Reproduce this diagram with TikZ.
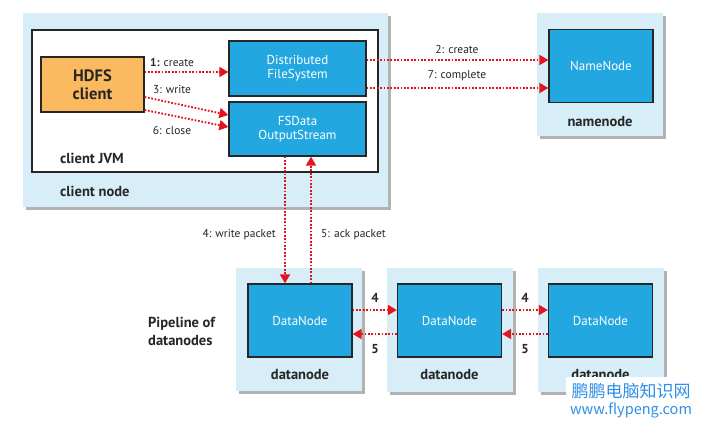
\documentclass[tikz,border=0pt]{standalone}
\usepackage{fontspec}
\setmainfont{PT Sans}
\newfontfamily\cjkfont{Noto Sans CJK SC}
\usetikzlibrary{arrows.meta,shadows,calc}
\definecolor{lightbg}{HTML}{D7EEF8}
\definecolor{nodeblue}{HTML}{22A7E0}
\definecolor{hdfsorange}{HTML}{FBB960}
\definecolor{arrred}{HTML}{E2141E}
\definecolor{wmblue}{HTML}{2E8FE8}
\definecolor{txtgray}{HTML}{262626}
\tikzset{
  outerbox/.style={draw=none,fill=lightbg,minimum width=126pt,minimum height=123pt,inner sep=0pt,
    drop shadow={shadow xshift=3pt,shadow yshift=-3pt,fill=black!60,opacity=0.5}},
  bluebox/.style={draw=black!85,line width=1.3pt,fill=nodeblue,text=white,align=center,
    font=\fontsize{13}{14}\selectfont,inner sep=0pt},
  innerdn/.style={bluebox,minimum width=104pt,minimum height=73pt},
  boxlabel/.style={font=\bfseries\fontsize{14.5}{15}\selectfont,text=txtgray,inner sep=0pt},
  lbl/.style={font=\fontsize{11.5}{12}\selectfont,text=txtgray,inner sep=0pt},
  numlbl/.style={font=\bfseries\fontsize{13}{14}\selectfont,text=txtgray,inner sep=0pt},
  arr/.style={draw=arrred,line width=1.9pt,dash pattern=on 1.7pt off 1.7pt,
    -{Triangle[length=9pt,width=10pt,fill=arrred]},shorten >=0pt},
}
\begin{document}
\begin{tikzpicture}[x=1pt,y=-1pt]
\useasboundingbox (0,0) rectangle (701,430);
\fill[white] (0,0) rectangle (701,430);

% client node
\node[outerbox,minimum width=365pt,minimum height=194pt] (clientnode) at (205.5,110) {};
\node[draw=black!85,line width=1.3pt,fill=white,minimum width=346pt,minimum height=142pt,inner sep=0pt] (jvm) at (205,101) {};
\node[draw=black!85,line width=1.3pt,fill=hdfsorange,minimum width=103pt,minimum height=55pt,inner sep=0pt,align=center,
  font=\bfseries\fontsize{16.5}{18}\selectfont,text=txtgray] (hdfs) at (92.5,84.5) {HDFS\\client};
\node[bluebox,minimum width=137pt,minimum height=55pt] (dfs) at (297.5,68.5) {Distributed\\FileSystem};
\node[bluebox,minimum width=137pt,minimum height=54pt] (fsd) at (297.5,129) {FSData\\OutputStream};
\node[boxlabel,anchor=west] (jvmlbl) at (60,158) {client JVM};
\node[boxlabel,anchor=west] (cnlbl) at (60,191) {client node};

% namenode
\node[outerbox] (nnbox) at (600,74.5) {};
\node[innerdn] (nn) at (601,66) {NameNode};
\node[boxlabel] (nnlbl) at (600,122) {namenode};

% datanodes
\node[outerbox] (dnbox1) at (298.5,329.5) {};
\node[innerdn] (dn1) at (300,320.5) {DataNode};
\node[boxlabel] (dnlbl1) at (300,375) {datanode};
\node[outerbox] (dnbox2) at (449.5,330) {};
\node[innerdn] (dn2) at (449.5,320.5) {DataNode};
\node[boxlabel] (dnlbl2) at (449.5,375) {datanode};
\node[outerbox] (dnbox3) at (601,330) {};
\node[innerdn] (dn3) at (600.5,320.5) {DataNode};
\node[boxlabel] (dnlbl3) at (600.5,375) {datanode};

\node[boxlabel,anchor=west,align=left,font=\bfseries\fontsize{14.5}{18}\selectfont] (pipe) at (148,331) {Pipeline of\\datanodes};

% arrows inside client
\draw[arr] ([yshift=12.5pt]hdfs.east) -- ([yshift=12.5pt]hdfs.east -| dfs.west);
\node[lbl] (l1) at (172,62) {\textbf{1:} create};
\draw[arr] ([yshift=-12.5pt]hdfs.east) -- ([yshift=14pt]fsd.west);
\node[lbl] (l3) at (172,90) {3: write};
\draw[arr] ([yshift=-25.5pt]hdfs.east) -- ([yshift=2pt]fsd.west);
\node[lbl] (l6) at (172,130) {6: close};

% to namenode
\draw[arr] ([yshift=8.5pt]dfs.east) -- ([yshift=8.5pt]dfs.east -| nn.west);
\node[lbl] (l2) at (457,49) {2: create};
\draw[arr] ([yshift=-19.5pt]dfs.east) -- ([yshift=-19.5pt]dfs.east -| nn.west);
\node[lbl] (l7) at (457,76) {7: complete};

% vertical
\draw[arr] ([xshift=-12.5pt]fsd.south) -- ([xshift=-12.5pt]fsd.south |- dn1.north);
\node[lbl,anchor=east] (l4) at (276,235) {4: write packet};
\draw[arr] ([xshift=13.5pt]fsd.south |- dn1.north) -- ([xshift=13.5pt]fsd.south);
\node[lbl,anchor=west] (l5) at (321,235) {5: ack packet};

% pipeline
\draw[arr] ([yshift=10.5pt]dn1.east) -- ([yshift=10.5pt]dn2.west);
\draw[arr] ([yshift=-13.5pt]dn2.west) -- ([yshift=-13.5pt]dn1.east);
\node[numlbl] (p4a) at (375,298) {4};
\node[numlbl] (p5a) at (375,349) {5};
\draw[arr] ([yshift=10.5pt]dn2.east) -- ([yshift=10.5pt]dn3.west);
\draw[arr] ([yshift=-13.5pt]dn3.west) -- ([yshift=-13.5pt]dn2.east);
\node[numlbl] (p4b) at (525,298) {4};
\node[numlbl] (p5b) at (525,349) {5};

% watermark
\fill[white] (566,377) rectangle (701,430);
\node[text=wmblue,font=\cjkfont\fontsize{17}{18}\selectfont,inner sep=0pt] (wm1) at (631,391) {鹏鹏电脑知识网};
\node[text=wmblue,font=\cjkfont\fontsize{14.5}{16}\selectfont,inner sep=0pt] (wm2) at (631,410) {www.flypeng.com};
\end{tikzpicture}
\end{document}
